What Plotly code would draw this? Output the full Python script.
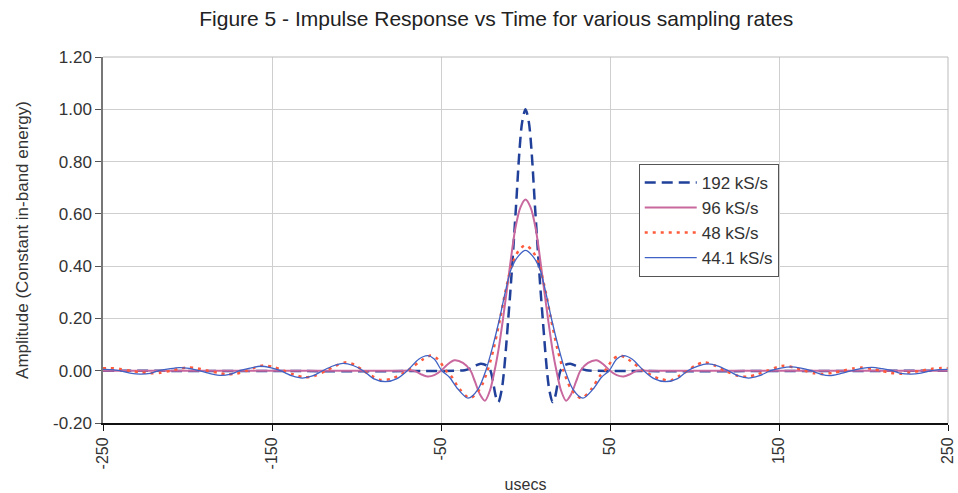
import plotly.graph_objects as go

# ---------------- data ----------------
t_192 = [-250, -40, -36, -33, -30, -26.5, -23, -20.7, -19, -17.5, -16, -14, -12.7, -11.5,
         -10.3, -9, -7.5, -5.6, -3.7, -2, 0, 2, 3.7, 5.6, 7.5, 9, 10.3, 11.5, 12.7, 14, 16,
         17.5, 19, 20.7, 23, 26.5, 30, 33, 36, 40, 250]
v_192 = [0, 0, 0.002, 0.008, 0.018, 0.027, 0.02, 0, -0.05, -0.1, -0.12, -0.07, 0, 0.09,
         0.19, 0.30, 0.44, 0.63, 0.83, 0.95, 1.0, 0.95, 0.83, 0.63, 0.44, 0.30, 0.19, 0.09, 0, -0.07, -0.12,
         -0.1, -0.05, 0, 0.02, 0.027, 0.018, 0.008, 0.002, 0, 0]

t_96 = [-250, -72, -66, -62, -58, -54, -50, -46, -42, -37, -32.5, -30, -27, -24, -21, -18.3,
        -16, -13.5, -11, -9.2, -6, -3, 0, 3, 6, 9.2, 11, 13.5, 16, 18.3, 21, 24, 27, 30, 32.5,
        37, 42, 46, 50, 54, 58, 62, 66, 72, 250]
v_96 = [0, 0, 0, -0.013, -0.022, -0.017, 0, 0.025, 0.04, 0.03, 0, -0.04, -0.09, -0.115, -0.075, 0,
        0.08, 0.19, 0.31, 0.40, 0.545, 0.625, 0.655, 0.625, 0.545, 0.40, 0.31, 0.19, 0.08, 0, -0.075, -0.115, -0.09, -0.04, 0,
        0.03, 0.04, 0.025, 0, -0.017, -0.022, -0.013, 0, 0, 0]

t_48 = [-250, -246, -240, -234, -228, -222, -216, -210, -205, -200, -194, -188, -182, -177,
        -171, -165, -160, -155, -149, -143, -137, -131, -125, -118, -112, -106, -101, -96, -91,
        -86, -79, -70, -61, -56, -52, -47, -44, -39, -33, -27, -22.5, -19, -15, -12, -8, -4, 0,
        4, 8, 12, 15, 19, 22.5, 27, 33, 39, 44, 47, 52, 56, 61, 70, 79, 86, 91, 96, 101, 106,
        112, 118, 125, 131, 137, 143, 149, 153, 159, 165, 171, 176, 182, 188, 194, 199, 205,
        210, 216, 222, 228, 234, 240, 246, 250]
v_48 = [0.009, 0.01, 0.007, 0, -0.006, -0.01, -0.008, 0, 0.007, 0.012, 0.009, 0, -0.008, -0.014,
        -0.011, 0, 0.012, 0.02, 0.014, 0, -0.015, -0.025, -0.02, 0, 0.02, 0.032, 0.022, 0, -0.02,
        -0.035, -0.03, 0, 0.042, 0.058, 0.045, 0, -0.02, -0.07, -0.105, -0.07, 0, 0.08, 0.2, 0.30, 0.405, 0.46, 0.48,
        0.46, 0.405, 0.30, 0.2, 0.08, 0, -0.07, -0.105, -0.07, -0.02, 0, 0.045, 0.058, 0.042, 0, -0.03, -0.037, -0.02, 0, 0.022, 0.032,
        0.02, 0, -0.018, -0.023, -0.014, 0, 0.014, 0.019, 0.012, 0, -0.01, -0.013, -0.008, 0, 0.009, 0.012, 0.007,
        0, -0.008, -0.012, -0.006, 0, 0.007, 0.01, 0.009]

t_44 = [-250, -245, -240, -234, -228, -222, -217, -211, -205, -199, -193, -186, -180, -175,
        -169, -163, -157, -151, -145, -138, -132, -126, -120, -114, -108, -102, -96, -90, -83,
        -76, -70, -63, -58, -54, -49.5, -45, -40, -34, -28, -23.5, -19.5, -15.5, -12, -8.4, -4, 0,
        4, 8.4, 12, 15.5, 19.5, 23.5, 28, 34, 40, 45, 49.5, 54, 58, 63, 70, 76, 83, 90, 96, 102,
        108, 114, 120, 126, 132, 138, 145, 151, 157, 163, 169, 175, 180, 186, 193, 199, 205,
        211, 217, 222, 228, 234, 240, 245, 250]
v_44 = [0.005, 0.004, 0, -0.009, -0.013, -0.01, 0, 0.007, 0.012, 0.009, 0, -0.012, -0.018, -0.014,
        0, 0.01, 0.017, 0.012, 0, -0.02, -0.028, -0.02, 0, 0.018, 0.028, 0.02, 0, -0.03, -0.042,
        -0.03, 0, 0.045, 0.058, 0.045, 0, -0.025, -0.07, -0.105, -0.07, 0, 0.09, 0.195, 0.30, 0.39, 0.44, 0.46,
        0.44, 0.39, 0.30, 0.195, 0.09, 0, -0.07, -0.105, -0.07, -0.025, 0, 0.045, 0.058, 0.045, 0, -0.03, -0.042, -0.03, 0, 0.018,
        0.026, 0.018, 0, -0.02, -0.028, -0.02, 0, 0.01, 0.015, 0.01, 0, -0.014, -0.019, -0.012, 0, 0.009, 0.013,
        0.008, 0, -0.01, -0.013, -0.009, 0, 0.004, 0.005]

series_names = ["192 kS/s", "96 kS/s", "48 kS/s", "44.1 kS/s"]
x_ticks = [-250, -150, -50, 50, 150, 250]
y_ticks = [-0.2, 0, 0.2, 0.4, 0.6, 0.8, 1.0, 1.2]

# ---------------- figure ----------------
FONT = "Liberation Sans, Arial, sans-serif"
fig = go.Figure()
fig.add_trace(go.Scatter(x=t_192, y=v_192, name=series_names[0], mode="lines",
                         line=dict(color="#21409A", width=2.5, dash="11px,6px", shape="spline", smoothing=0.8)))
fig.add_trace(go.Scatter(x=t_96, y=v_96, name=series_names[1], mode="lines",
                         line=dict(color="#C8689E", width=2, shape="spline", smoothing=0.8)))
fig.add_trace(go.Scatter(x=t_48, y=v_48, name=series_names[2], mode="lines",
                         line=dict(color="#FF5A3C", width=2.5, dash="3px,5px", shape="spline", smoothing=0.8)))
fig.add_trace(go.Scatter(x=t_44, y=v_44, name=series_names[3], mode="lines",
                         line=dict(color="#3F62C4", width=1.3, shape="spline", smoothing=0.8)))

fig.update_layout(
    width=958, height=493,
    margin=dict(l=103, r=10, t=57, b=70, autoexpand=False),
    paper_bgcolor="white", plot_bgcolor="white",
    font=dict(family=FONT, size=16, color="#333333"),
    title=dict(text="Figure 5 - Impulse Response vs Time for various sampling rates",
               x=0.518, xanchor="center", y=0.963, yanchor="middle",
               font=dict(family=FONT, size=21, color="#222222")),
    showlegend=True,
    legend=dict(x=0.634, y=0.708, xanchor="left", yanchor="top",
                bgcolor="white", bordercolor="#555555", borderwidth=1,
                font=dict(family=FONT, size=17, color="#333333"),
                itemwidth=52, tracegroupgap=0),
)
fig.update_xaxes(
    range=[-250, 250], tickmode="array", tickvals=x_ticks, ticktext=[str(v) for v in x_ticks],
    tickangle=-90, showgrid=True, gridcolor="#CFCFCF", gridwidth=1, automargin=False,
    showline=True, linecolor="#111111", linewidth=2, ticks="outside", ticklen=6, tickcolor="#111111",
    tickfont=dict(size=16),
    zeroline=False, title=dict(text="usecs", standoff=30, font=dict(size=16)),
)
fig.update_yaxes(
    range=[-0.2, 1.2], tickmode="array", tickvals=y_ticks, ticktext=[f"{v:.2f}" for v in y_ticks],
    showgrid=True, gridcolor="#CFCFCF", gridwidth=1, automargin=False,
    showline=True, linecolor="#777777", linewidth=1.5, ticks="outside", ticklen=6, tickcolor="#555555",
    tickfont=dict(size=17),
    zeroline=False, title=dict(text="Amplitude (Constant in-band energy)", standoff=20, font=dict(size=17)),
)
# plot-area frame on top/right (light gray as in reference)
fig.add_shape(type="line", xref="paper", yref="paper", x0=0, x1=1, y0=1, y1=1,
              line=dict(color="#BBBBBB", width=1))
fig.add_shape(type="line", xref="paper", yref="paper", x0=1, x1=1, y0=0, y1=1,
              line=dict(color="#BBBBBB", width=1))

fig.write_html("out.html")
